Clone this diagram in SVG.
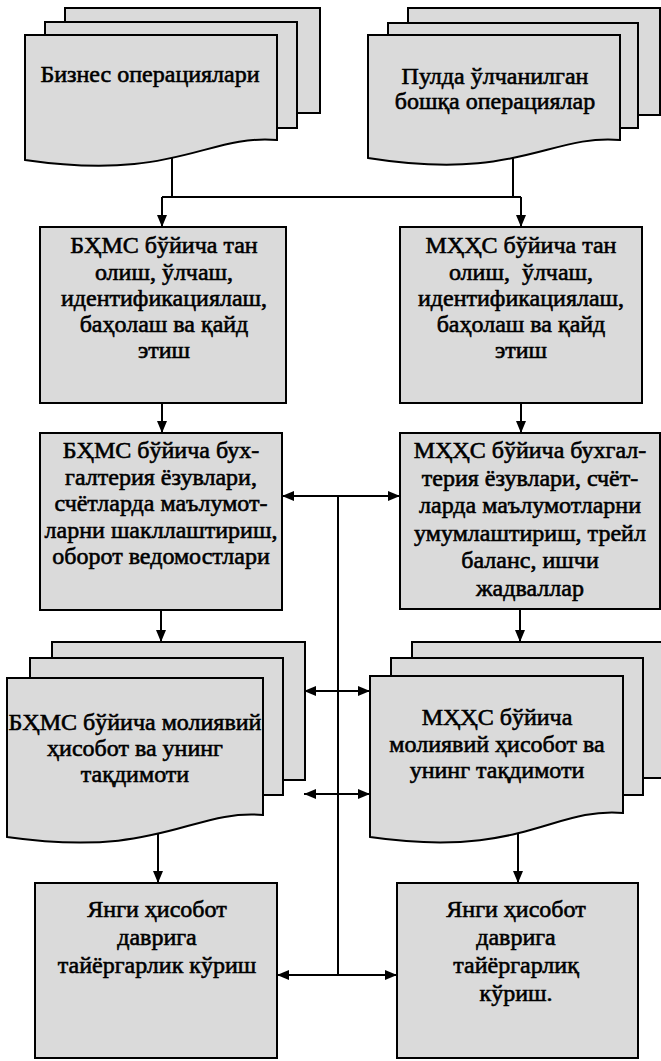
<svg xmlns="http://www.w3.org/2000/svg" width="661" height="1061" viewBox="0 0 661 1061">
  <style>
    .shape { fill: #dadada; stroke: #000; stroke-width: 2; stroke-linejoin: miter; }
    .lbl { font-family: 'Liberation Serif', 'Times New Roman', 'DejaVu Serif', serif; font-size: 24px; fill: #000; stroke: #000; stroke-width: 0.6; text-anchor: middle; }
    .conn { fill: none; stroke: #000; stroke-width: 2; }
    .arr { marker-end: url(#head); }
    .both { marker-start: url(#head); marker-end: url(#head); }
  </style>
  <defs>
    <marker id="head" markerUnits="userSpaceOnUse" markerWidth="12" markerHeight="10" refX="12" refY="5" orient="auto-start-reverse">
      <path d="M0,0 L12,5 L0,10 z" fill="#000"/>
    </marker>
  </defs>

  <rect width="661" height="1061" fill="#fff"/>

  <!-- connectors -->
  <g id="connectors">
    <path class="conn" d="M172,150 V197"/>
    <path class="conn" d="M513,150 V197"/>
    <path class="conn" d="M162,197 H521"/>
    <path class="conn arr" d="M162,197 V227"/>
    <path class="conn arr" d="M521,197 V227"/>
    <path class="conn arr" d="M162,403 V433"/>
    <path class="conn arr" d="M521,403 V433"/>
    <path class="conn both" d="M282,496 H400"/>
    <path class="conn" d="M338,496 V975"/>
    <path class="conn arr" d="M161,610 V642"/>
    <path class="conn arr" d="M520,609 V642"/>
    <path class="conn both" d="M304,691 H370"/>
    <path class="conn both" d="M304,794 H370"/>
    <path class="conn arr" d="M158,828 V883"/>
    <path class="conn arr" d="M518,828 V883"/>
    <path class="conn both" d="M277,975 H397"/>
  </g>

  <!-- top left: business operations (document stack) -->
  <g id="doc-business">
    <rect class="shape" x="65" y="8" width="255" height="105"/>
    <rect class="shape" x="45" y="22" width="252" height="106"/>
    <path class="shape" d="M25,35 H277 V140 C206,134 176,182 25,160 Z"/>
    <text class="lbl" x="150" y="82">Бизнес операциялари</text>
  </g>

  <!-- top right: other monetary operations (document stack) -->
  <g id="doc-monetary">
    <rect class="shape" x="408" y="8" width="252" height="107"/>
    <rect class="shape" x="388" y="23" width="250" height="105"/>
    <path class="shape" d="M368,35 H620 V140 C549,134 519,182 368,158 Z"/>
    <text class="lbl" x="495" y="84">Пулда ўлчанилган</text>
    <text class="lbl" x="495" y="109">бошқа операциялар</text>
  </g>

  <!-- recognition by national standards -->
  <g id="box-recog-bhms">
    <rect class="shape" x="40" y="227" width="246" height="176"/>
    <text class="lbl" x="164" y="253">БҲМС бўйича тан</text>
    <text class="lbl" x="164" y="280">олиш, ўлчаш,</text>
    <text class="lbl" x="164" y="306">идентификациялаш,</text>
    <text class="lbl" x="164" y="332">баҳолаш ва қайд</text>
    <text class="lbl" x="164" y="358">этиш</text>
  </g>

  <!-- recognition by international standards -->
  <g id="box-recog-mhhs">
    <rect class="shape" x="400" y="227" width="242" height="176"/>
    <text class="lbl" x="521" y="253">МҲҲС бўйича тан</text>
    <text class="lbl" x="521" y="280" xml:space="preserve">олиш,  ўлчаш,</text>
    <text class="lbl" x="521" y="306">идентификациялаш,</text>
    <text class="lbl" x="521" y="332">баҳолаш ва қайд</text>
    <text class="lbl" x="521" y="358">этиш</text>
  </g>

  <!-- accounting entries, national -->
  <g id="box-entries-bhms">
    <rect class="shape" x="40" y="433" width="242" height="177"/>
    <text class="lbl" x="161" y="458">БҲМС бўйича бух-</text>
    <text class="lbl" x="161" y="484.5">галтерия ёзувлари,</text>
    <text class="lbl" x="161" y="511">счётларда маълумот-</text>
    <text class="lbl" x="161" y="537.5">ларни шакллаштириш,</text>
    <text class="lbl" x="161" y="564">оборот ведомостлари</text>
  </g>

  <!-- accounting entries, international -->
  <g id="box-entries-mhhs">
    <rect class="shape" x="400" y="433" width="260" height="176"/>
    <text class="lbl" x="530" y="458">МҲҲС бўйича бухгал-</text>
    <text class="lbl" x="530" y="485.5">терия ёзувлари, счёт-</text>
    <text class="lbl" x="530" y="513">ларда маълумотларни</text>
    <text class="lbl" x="530" y="540.5">умумлаштириш, трейл</text>
    <text class="lbl" x="530" y="568">баланс, ишчи</text>
    <text class="lbl" x="530" y="595.5">жадваллар</text>
  </g>

  <!-- financial statements, national (document stack) -->
  <g id="doc-report-bhms">
    <rect class="shape" x="52" y="642" width="253" height="138"/>
    <rect class="shape" x="30" y="658" width="253" height="137"/>
    <path class="shape" d="M7,678 H263 V815 C191,809 161,859 7,837 Z"/>
    <text class="lbl" x="135" y="730">БҲМС бўйича молиявий</text>
    <text class="lbl" x="135" y="756">ҳисобот ва унинг</text>
    <text class="lbl" x="135" y="782">тақдимоти</text>
  </g>

  <!-- financial statements, international (document stack) -->
  <g id="doc-report-mhhs">
    <rect class="shape" x="412" y="642" width="270" height="136"/>
    <rect class="shape" x="391" y="658" width="252" height="137"/>
    <path class="shape" d="M370,676 H623 V813 C552,807 522,859 370,837 Z"/>
    <text class="lbl" x="497" y="725">МҲҲС бўйича</text>
    <text class="lbl" x="497" y="752">молиявий ҳисобот ва</text>
    <text class="lbl" x="497" y="778">унинг тақдимоти</text>
  </g>

  <!-- preparation for the next period -->
  <g id="box-next-bhms">
    <rect class="shape" x="35" y="883" width="242" height="175"/>
    <text class="lbl" x="157" y="917">Янги ҳисобот</text>
    <text class="lbl" x="157" y="945">даврига</text>
    <text class="lbl" x="157" y="973">тайёргарлик кўриш</text>
  </g>

  <g id="box-next-mhhs">
    <rect class="shape" x="397" y="883" width="241" height="175"/>
    <text class="lbl" x="516" y="917">Янги ҳисобот</text>
    <text class="lbl" x="516" y="945">даврига</text>
    <text class="lbl" x="516" y="973">тайёргарлиқ</text>
    <text class="lbl" x="516" y="1001">кўриш.</text>
  </g>
</svg>
